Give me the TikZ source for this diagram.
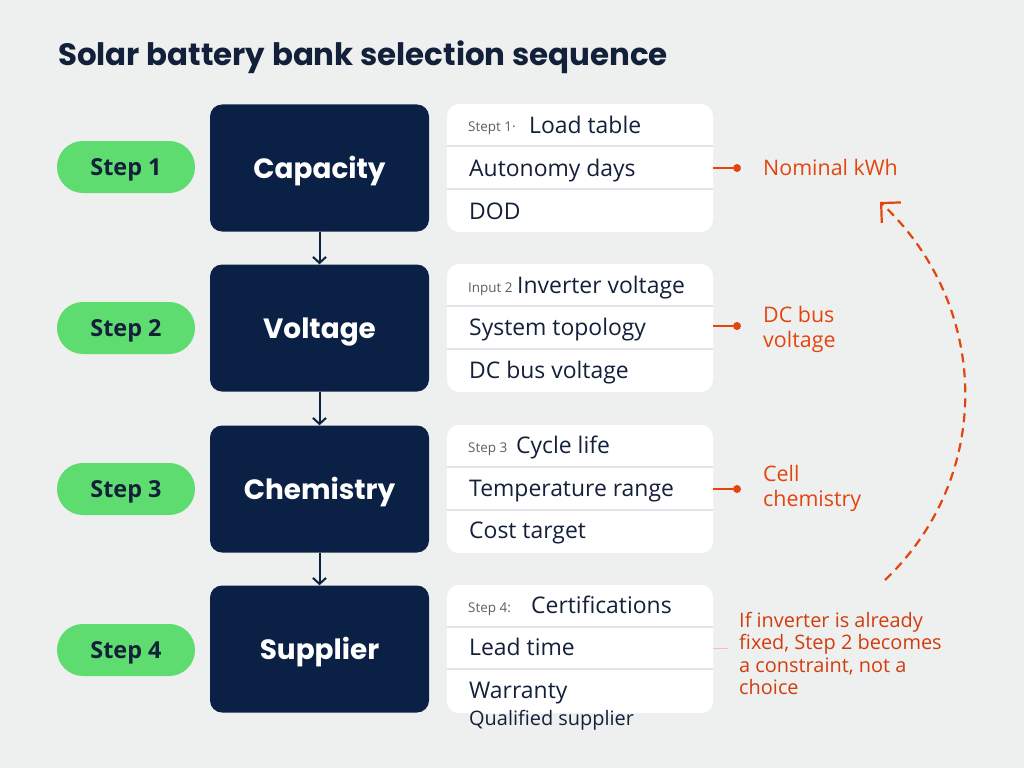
\documentclass[tikz,border=0pt]{standalone}
\usepackage{fontspec}
\setmainfont{Open Sans}
\newfontfamily\headfont{Poppins}
\usetikzlibrary{arrows.meta}

\definecolor{paper}{HTML}{EEF0F0}
\definecolor{navy}{HTML}{0B2045}
\definecolor{ink}{HTML}{13203A}
\definecolor{leaf}{HTML}{5EDC70}
\definecolor{rust}{HTML}{E4450F}
\definecolor{brick}{HTML}{D23C0C}
\definecolor{rule}{HTML}{E2E4E7}
\definecolor{muted}{HTML}{5A5F66}

\begin{document}
\begin{tikzpicture}
[x=1bp, y=-1bp,
steppill/.style={shape=rectangle, rounded corners=25.9bp, fill=leaf, text=ink,
  minimum width=138bp, minimum height=52bp, text height=17bp, text depth=0pt,
  font=\bfseries\fontsize{23.5}{27}\selectfont},
stagebox/.style={shape=rectangle, rounded corners=12bp, fill=navy, text=white,
  minimum width=219bp, minimum height=127bp, text height=20bp, text depth=0pt,
  font=\headfont\bfseries\fontsize{28}{32}\selectfont},
panel/.style={shape=rectangle, rounded corners=12bp, fill=white,
  minimum width=266bp, minimum height=128bp},
rowline/.style={draw=rule, line width=1.2bp},
rowtext/.style={anchor=base west, inner sep=0pt, text=ink, font=\fontsize{23}{27}\selectfont},
rowprefix/.style={anchor=base west, inner sep=0pt, text=muted, font=\fontsize{13.5}{16}\selectfont},
flow/.style={draw=navy, line width=2bp, -{Straight Barb[length=6bp, width=13bp, line width=2bp]}},
tie/.style={draw=rust, line width=1.5bp},
dotmark/.style={shape=circle, fill=rust, inner sep=0pt, minimum size=8bp},
note/.style={inner sep=0pt, align=left, text=rust, font=\fontsize{21.5}{25}\selectfont},
loopback/.style={draw=rust, line width=2.2bp, dash pattern=on 9bp off 6bp,
  -{Straight Barb[length=14bp, width=28bp, line width=2.2bp]}}]

% page and title
\fill[paper] (0,0) rectangle (1024,768);
\node[anchor=base west, inner sep=0pt, text=ink, font=\headfont\bfseries\fontsize{31}{36}\selectfont]
  (title) at (58,66) {Solar battery bank selection sequence};

% step pills
\node[steppill] (pill1) at (126,167) {Step 1};
\node[steppill] (pill2) at (126,328) {Step 2};
\node[steppill] (pill3) at (126,489) {Step 3};
\node[steppill] (pill4) at (126,650) {Step 4};

% stages
\node[stagebox] (stage1) at (319.5,168) {Capacity};
\node[stagebox] (stage2) at (319.5,328) {Voltage};
\node[stagebox] (stage3) at (319.5,489) {Chemistry};
\node[stagebox] (stage4) at (319.5,649) {Supplier};

\draw[flow] (stage1.south) -- (stage2.north);
\draw[flow] (stage2.south) -- (stage3.north);
\draw[flow] (stage3.south) -- (stage4.north);

% input panels
\node[panel] (panel1) at (580,168) {};
\node[panel] (panel2) at (580,328) {};
\node[panel] (panel3) at (580,489) {};
\node[panel] (panel4) at (580,649) {};

\draw[rowline] (panel1.west |- 0,146) -- (panel1.east |- 0,146);
\draw[rowline] (panel1.west |- 0,189) -- (panel1.east |- 0,189);
\draw[rowline] (panel2.west |- 0,306) -- (panel2.east |- 0,306);
\draw[rowline] (panel2.west |- 0,349) -- (panel2.east |- 0,349);
\draw[rowline] (panel3.west |- 0,467) -- (panel3.east |- 0,467);
\draw[rowline] (panel3.west |- 0,510) -- (panel3.east |- 0,510);
\draw[rowline] (panel4.west |- 0,627) -- (panel4.east |- 0,627);
\draw[rowline] (panel4.west |- 0,669) -- (panel4.east |- 0,669);

\node[rowprefix] (pre1) at (468,131) {Stept 1·};
\node[rowtext] (load) at (529,133) {Load table};
\node[rowtext] (autonomy) at (469,176) {Autonomy days};
\node[rowtext] (dod) at (469,219) {DOD};

\node[rowprefix] (pre2) at (468,292) {Input 2};
\node[rowtext] (inverter) at (517,293) {Inverter voltage};
\node[rowtext] (topology) at (469,335) {System topology};
\node[rowtext] (busvolt) at (469,378) {DC bus voltage};

\node[rowprefix] (pre3) at (468,452) {Step 3};
\node[rowtext] (cycle) at (516,453) {Cycle life};
\node[rowtext] (temp) at (469,496) {Temperature range};
\node[rowtext] (cost) at (469,538) {Cost target};

\node[rowprefix] (pre4) at (468,612) {Step 4:};
\node[rowtext] (certs) at (531,613) {Certifications};
\node[rowtext] (lead) at (469,655) {Lead time};
\node[rowtext] (warranty) at (469,698) {Warranty};
\node[rowtext, font=\fontsize{20}{24}\selectfont] (qualified) at (469,725) {Qualified supplier};

% outputs
\node[dotmark] (dot1) at (737,168) {};
\node[dotmark] (dot2) at (737,326) {};
\node[dotmark] (dot3) at (737,489) {};
\draw[tie] (panel1.east |- dot1) -- (dot1);
\draw[tie] (panel2.east |- dot2) -- (dot2);
\draw[tie] (panel3.east |- dot3) -- (dot3);

\node[note, anchor=west] (kwh) at (763,167) {Nominal kWh};
\node[note, anchor=west] (bus) at (763,329) {DC bus\\voltage};
\node[note, anchor=west] (cell) at (763,488) {Cell\\chemistry};
\node[note, anchor=north west, text=brick, font=\fontsize{20}{22.5}\selectfont]
  (caveat) at (739,612) {If inverter is already\\fixed, Step 2 becomes\\a constraint, not a\\choice};

\coordinate (tie4) at (728,648);
\draw[tie, draw=rust!35, line width=1bp] (panel4.east |- tie4) -- (tie4);

% loop back to step 1
\coordinate (loopstart) at (885,580);
\coordinate (loopend) at (880,202);
\draw[loopback] (loopstart) .. controls (995,475) and (990,305) .. (loopend);
\end{tikzpicture}
\end{document}
